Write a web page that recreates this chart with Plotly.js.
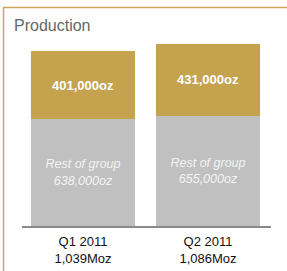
<!DOCTYPE html>
<html>
<head>
<meta charset="utf-8">
<script src="https://cdn.plot.ly/plotly-3.0.1.min.js"></script>
<style>html,body{margin:0;padding:0;background:#fff;}#chart{width:287px;height:271px;}</style>
</head>
<body>
<div id="chart"></div>
<script>
const categories = ["Q1 2011", "Q2 2011"];
const totals = ["1,039Moz", "1,086Moz"];
const restOfGroup = [638000, 655000];
const highlight = [401000, 431000];

const fmt = v => v.toLocaleString('en-US') + 'oz';
const tickText = categories.map((c, i) => c + '<br>' + totals[i]);

const traces = [
  {
    type: 'bar', x: categories, y: restOfGroup,
    marker: {color: '#C0C0C0'},
    text: restOfGroup.map(v => '<i>Rest of group<br>' + fmt(v) + '</i>'),
    textposition: 'inside', insidetextanchor: 'middle', textangle: 0,
    insidetextfont: {family: 'Liberation Sans, Arial, sans-serif', size: 12.5, color: '#f4f4f4'},
    hoverinfo: 'none'
  },
  {
    type: 'bar', x: categories, y: highlight,
    marker: {color: '#C4A24E'},
    text: highlight.map(v => '<b>' + fmt(v) + '</b>'),
    textposition: 'inside', insidetextanchor: 'middle', textangle: 0,
    insidetextfont: {family: 'Liberation Sans, Arial, sans-serif', size: 13, color: '#ffffff'},
    hoverinfo: 'none'
  }
];

const layout = {
  width: 287, height: 271,
  margin: {l: 22, r: 16, t: 30, b: 45, pad: 0},
  paper_bgcolor: '#fff', plot_bgcolor: '#fff',
  barmode: 'stack', bargap: 0.168,
  showlegend: false,
  xaxis: {
    type: 'category', range: [-0.488, 1.504],
    tickvals: categories, ticktext: tickText,
    showline: true, linecolor: '#8a8a8a', linewidth: 1.5,
    ticks: '', showgrid: false, zeroline: false, ticklabelstandoff: 3,
    tickfont: {family: 'Liberation Sans, Arial, sans-serif', size: 13, color: '#111'}
  },
  yaxis: {
    range: [0, 1166700], visible: false, showgrid: false, zeroline: false
  },
  annotations: [{
    text: 'Production', xref: 'paper', yref: 'paper',
    x: -0.04, y: 1.0255, xanchor: 'left', yanchor: 'middle', showarrow: false,
    font: {family: 'Liberation Sans, Arial, sans-serif', size: 16, color: '#666'}
  }],
  shapes: [
    {type: 'line', xref: 'paper', yref: 'paper', x0: -0.0763, x1: 1.07, y0: 1.1148, y1: 1.1148,
     line: {color: '#C9A75A', width: 1.5}},
    {type: 'line', xref: 'paper', yref: 'paper', x0: -0.0743, x1: -0.0743, y0: 1.1148, y1: -0.25,
     line: {color: '#C9A75A', width: 1.5}}
  ]
};

Plotly.newPlot('chart', traces, layout, {staticPlot: true, displayModeBar: false});
</script>
</body>
</html>
